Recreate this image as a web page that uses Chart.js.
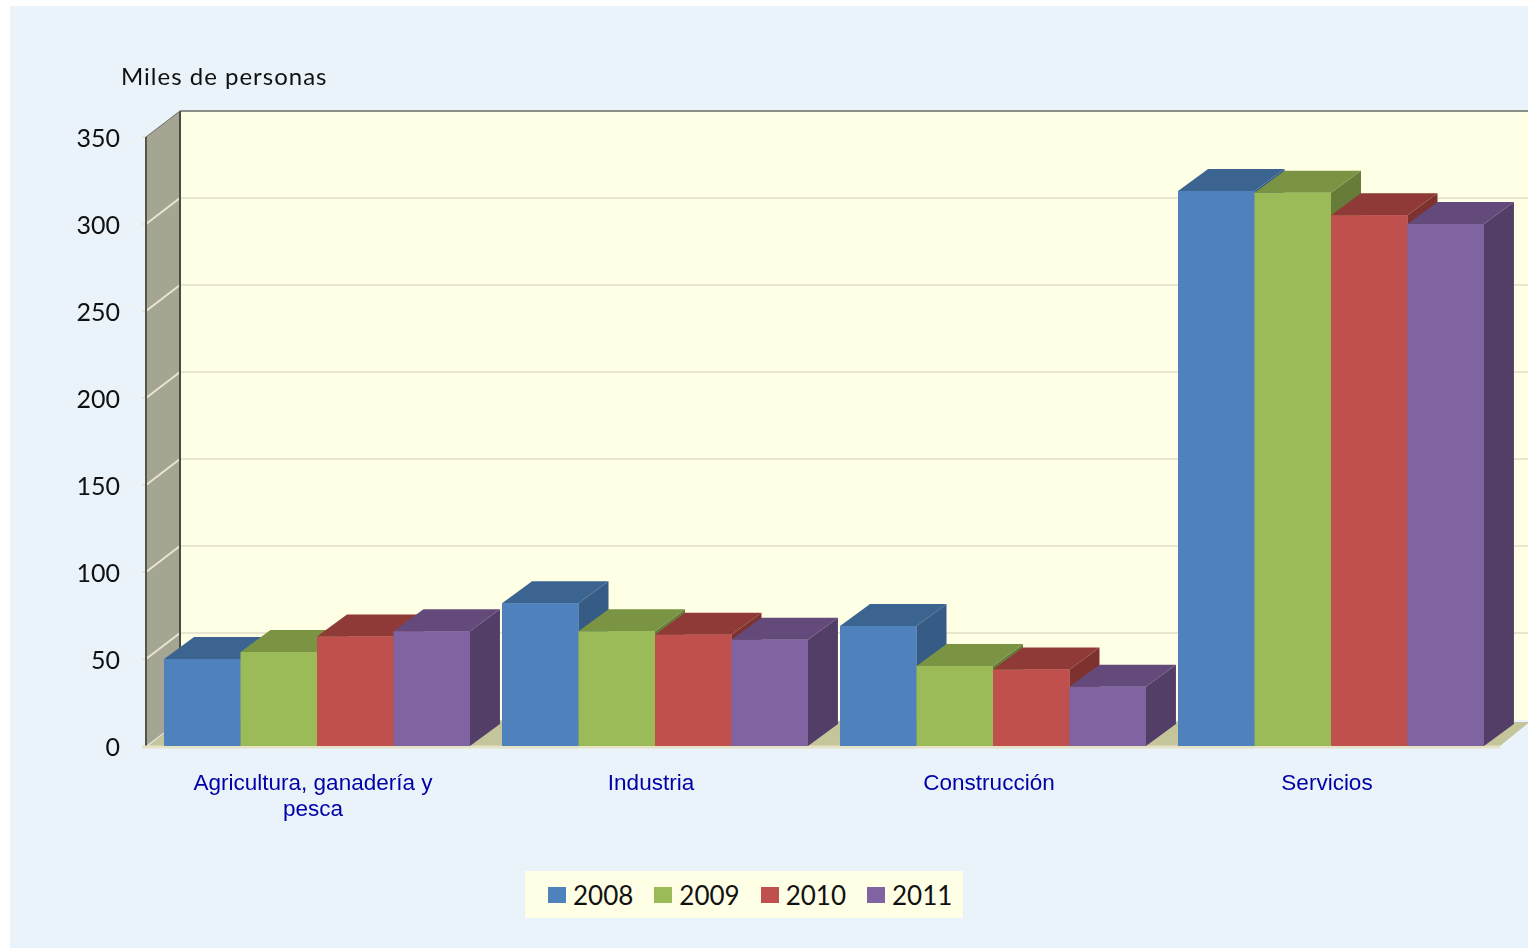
<!DOCTYPE html>
<html lang="es">
<head>
<meta charset="utf-8">
<title>Miles de personas</title>
<script src="https://cdn.jsdelivr.net/npm/chart.js@4"></script>
<style>
  html, body { margin: 0; padding: 0; background: #fff; overflow: hidden; }
  #panel { position: absolute; left: 10px; top: 6px; width: 1518px; height: 942px; background: #eaf3fa; }
  #grafico { position: absolute; left: 0; top: 0; }
  #leyenda {
    position: absolute; left: 525px; top: 871px; width: 438px; height: 47px;
    background: #ffffe5; display: flex; align-items: center; box-sizing: border-box; padding-left: 23px;
    font: 26px Lato, sans-serif; color: #111;
  }
  #leyenda span.cuadro { flex: none; width: 18px; height: 16px; margin-right: 7px; display: inline-block; }
  #leyenda span.texto { flex: none; margin-right: 21px; }
</style>
</head>
<body>
<div id="panel"></div>
<canvas id="grafico" width="1528" height="948"></canvas>
<div id="leyenda"></div>
<script>
const categorias = [['Agricultura, ganadería y', 'pesca'], 'Industria', 'Construcción', 'Servicios'];
const anios = ['2008', '2009', '2010', '2011'];
const valores2008 = [50, 82, 69, 319];
const valores2009 = [54, 66, 46, 318];
const valores2010 = [63, 64, 44, 305];
const valores2011 = [66, 61, 34, 300];
const unidad = 'Miles de personas';

const coloresFrente = ['#4f81bd', '#9bbb59', '#c0504d', '#8064a2'];
const coloresArriba = ['#3c6491', '#7a9443', '#8f3a37', '#634a7a'];
const coloresLado = ['#365b85', '#667c38', '#7e3230', '#533e67'];

// profundidad de las barras y de las paredes
const barDx = 30, barDy = 22;
const wallDx = 32, wallDy = 26;

function poligono(ctx, puntos, color) {
  ctx.fillStyle = color;
  ctx.beginPath();
  puntos.forEach((p, i) => i ? ctx.lineTo(p[0], p[1]) : ctx.moveTo(p[0], p[1]));
  ctx.closePath();
  ctx.fill();
}

function linea(ctx, x1, y1, x2, y2, color, ancho) {
  ctx.strokeStyle = color;
  ctx.lineWidth = ancho;
  ctx.beginPath();
  ctx.moveTo(x1, y1);
  ctx.lineTo(x2, y2);
  ctx.stroke();
}

const paredes = {
  id: 'paredes',
  beforeDatasetsDraw(chart) {
    const { ctx, chartArea: a, scales: { y } } = chart;
    const top = a.top, bot = a.bottom, l = a.left, r = a.right;
    ctx.save();
    // pared del fondo
    poligono(ctx, [[l + wallDx, top - wallDy], [1528, top - wallDy], [1528, bot - wallDy], [l + wallDx, bot - wallDy]], '#ffffe5');
    // pared izquierda
    poligono(ctx, [[l - 2, top], [l + wallDx, top - wallDy], [l + wallDx, bot - wallDy], [l - 2, bot]], '#a5a594');
    // suelo
    poligono(ctx, [[l, bot], [r, bot], [r + wallDx, bot - wallDy], [1528, bot - wallDy], [1528, bot - wallDy + 2], [l + wallDx, bot - wallDy]], '#c4c59b');
    y.ticks.forEach(t => {
      const py = y.getPixelForValue(t.value);
      if (t.value > 0 && t.value < 350) {
        linea(ctx, l + wallDx, py - wallDy, 1528, py - wallDy, '#e8e6cf', 2);
        linea(ctx, l - 2, py, l + wallDx, py - wallDy, '#e8e6cf', 2);
      }
      linea(ctx, l - 6, py, l - 2, py, '#e8e6cf', 2);
    });
    linea(ctx, l + wallDx, top - wallDy, 1528, top - wallDy, '#8a9087', 2);
    linea(ctx, l + wallDx, top - wallDy, l + wallDx, bot - wallDy, '#4a4a44', 2);
    linea(ctx, l - 2, top, l - 2, bot, '#55554c', 2);
    linea(ctx, l - 2, top, l + wallDx, top - wallDy, '#6c6c62', 1);
    linea(ctx, l - 6, bot + 1, r, bot + 1, '#e5e2c5', 3);
    ctx.restore();
  },
  afterDatasetsDraw(chart) {
    const { ctx } = chart;
    // cada barra otra vez, en orden de serie, con su tapa y su lado
    ctx.save();
    chart.data.datasets.forEach((ds, i) => {
      chart.getDatasetMeta(i).data.forEach(bar => {
        const p = bar.getProps(['x', 'y', 'base', 'width'], true);
        const x1 = p.x - p.width / 2, x2 = p.x + p.width / 2;
        poligono(ctx, [[x2, p.y], [x2 + barDx, p.y - barDy], [x2 + barDx, p.base - barDy], [x2, p.base]], coloresLado[i]);
        poligono(ctx, [[x1, p.y], [x1 + barDx, p.y - barDy], [x2 + barDx, p.y - barDy], [x2, p.y]], coloresArriba[i]);
        bar.draw(ctx);
      });
    });
    ctx.restore();
  },
  afterDraw(chart) {
    const { ctx } = chart;
    ctx.save();
    ctx.fillStyle = '#111';
    ctx.font = '24px Lato, sans-serif';
    ctx.letterSpacing = '1px';
    ctx.textBaseline = 'alphabetic';
    ctx.fillText(unidad, 121, 85);
    ctx.restore();
  }
};

const series = [valores2008, valores2009, valores2010, valores2011];

const grafico = new Chart(document.getElementById('grafico').getContext('2d'), {
  type: 'bar',
  data: {
    labels: categorias,
    datasets: anios.map((a, i) => ({
      label: a,
      data: series[i],
      backgroundColor: coloresFrente[i],
      borderWidth: 0,
      categoryPercentage: 0.905,
      barPercentage: 1
    }))
  },
  options: {
    responsive: false,
    animation: false,
    layout: { padding: { left: 0, top: 137, right: 28, bottom: 0 } },
    plugins: { legend: { display: false }, title: { display: false }, tooltip: { enabled: false } },
    scales: {
      x: {
        grid: { display: false },
        border: { display: false },
        afterFit: s => { s.height = 202; },
        ticks: {
          color: '#0000a8',
          font: { family: '"Liberation Sans", Arial, sans-serif', size: 22.5, lineHeight: '26px' },
          padding: 17,
          labelOffset: -4,
          maxRotation: 0,
          autoSkip: false
        }
      },
      y: {
        min: 0,
        max: 350,
        grid: { display: false },
        border: { display: false },
        afterFit: s => { s.width = 148; },
        ticks: {
          stepSize: 50,
          color: '#111',
          font: { family: 'Lato, sans-serif', size: 25 },
          padding: 20,
          labelOffset: 2
        }
      }
    }
  },
  plugins: [paredes]
});

// leyenda en html, a partir de las series
const leyenda = document.getElementById('leyenda');
grafico.data.datasets.forEach(ds => {
  const cuadro = document.createElement('span');
  cuadro.className = 'cuadro';
  cuadro.style.background = ds.backgroundColor;
  const texto = document.createElement('span');
  texto.className = 'texto';
  texto.textContent = ds.label;
  leyenda.appendChild(cuadro);
  leyenda.appendChild(texto);
});
</script>
</body>
</html>
